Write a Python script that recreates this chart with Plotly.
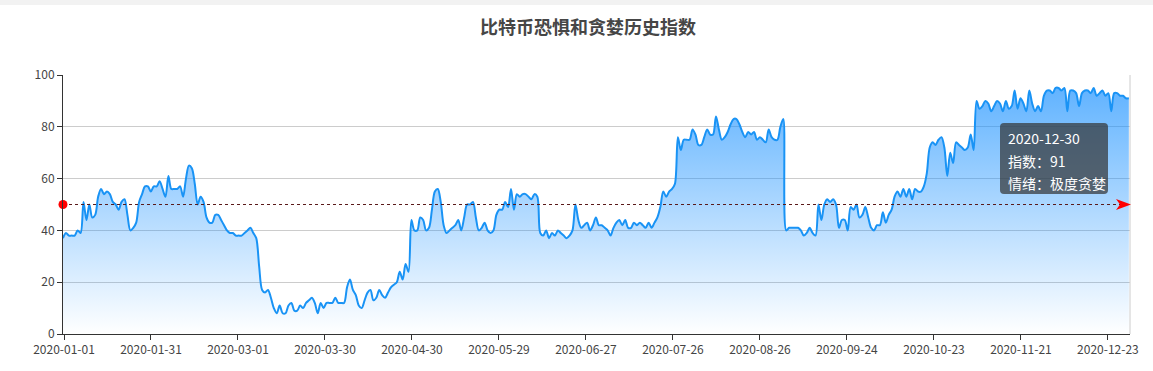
import plotly.graph_objects as go

# ---- data ----
fear_greed = [
    37, 39, 38, 38, 38, 40, 39, 51, 44, 50, 45, 46, 53, 56, 54, 55, 54, 51, 50, 48,
    51, 52, 46, 40, 41, 43, 51, 54, 57, 57, 55, 57, 57, 59, 56, 53, 61, 56, 56, 56,
    57, 53, 60, 65, 64, 58, 50, 53, 51, 45, 43, 43, 46, 46, 44, 42, 40, 39, 39, 38,
    38, 38, 39, 40, 41, 39, 37, 26, 17, 16, 17, 14, 10, 8, 11, 8, 8, 11, 12, 9,
    9, 11, 10, 12, 13, 14, 12, 8, 12, 10, 12, 12, 12, 14, 12, 12, 12, 18, 21, 17,
    15, 11, 10, 13, 16, 17, 13, 14, 17, 15, 14, 16, 18, 19, 20, 24, 21, 27, 24, 44,
    40, 40, 45, 44, 40, 41, 48, 55, 56, 51, 42, 39, 40, 41, 42, 44, 40, 45, 50, 50,
    51, 45, 40, 41, 43, 40, 39, 40, 46, 48, 48, 51, 49, 56, 48, 54, 53, 54, 54, 53,
    52, 54, 53, 39, 38, 40, 37, 39, 38, 40, 39, 38, 37, 38, 40, 50, 44, 41, 42, 43,
    40, 42, 45, 42, 42, 41, 40, 38, 41, 43, 44, 42, 44, 41, 41, 43, 42, 43, 42, 41,
    43, 41, 43, 45, 49, 55, 53, 55, 56, 58, 76, 71, 75, 75, 75, 79, 77, 73, 73, 76,
    79, 77, 77, 84, 79, 75, 76, 78, 81, 83, 83, 81, 78, 76, 78, 77, 78, 75, 76, 75,
    74, 79, 76, 75, 75, 80, 83, 40, 41, 41, 41, 41, 40, 38, 39, 41, 39, 38, 50, 44,
    50, 52, 51, 52, 50, 41, 44, 44, 40, 49, 48, 50, 45, 46, 49, 45, 41, 40, 42, 42,
    47, 43, 46, 48, 53, 55, 53, 56, 53, 56, 52, 56, 55, 55, 57, 62, 72, 74, 73, 75,
    76, 72, 61, 70, 66, 74, 73, 72, 71, 72, 77, 71, 90, 87, 88, 90, 89, 86, 88, 90,
    89, 86, 90, 87, 88, 94, 87, 91, 89, 86, 94, 89, 86, 88, 86, 92, 94, 94, 93, 95,
    95, 94, 95, 86, 94, 94, 93, 88, 93, 94, 94, 93, 95, 92, 93, 94, 92, 93, 86, 93,
    93, 92, 92, 91, 91,
]
tick_labels = ['2020-01-01', '2020-01-31', '2020-03-01', '2020-03-30', '2020-04-30',
               '2020-05-29', '2020-06-27', '2020-07-26', '2020-08-26', '2020-09-24',
               '2020-10-23', '2020-11-21', '2020-12-23']
y_ticks = [0, 20, 40, 60, 80, 100]
threshold = 50
tooltip_date = '2020-12-30'
tooltip_value = 91
tooltip_mood = '极度贪婪'
title_text = '比特币恐惧和贪婪历史指数'

# ---- layout geometry ----
W, H = 1153, 371
ML, MR, MT, MB = 63, 23, 75, 37
PW, PH = W - ML - MR, H - MT - MB
n = len(fear_greed)
x_idx = list(range(n))
x_max = n - 1 + 0.4
tick_pos = [0.34 + 29.71 * k for k in range(len(tick_labels))]

FONT = 'Noto Sans CJK SC, Microsoft YaHei, sans-serif'


def px_x(p):
    return (p - ML) / PW


def px_y(p):
    return (H - MB - p) / PH


fig = go.Figure()

fig.add_trace(go.Scatter(
    x=x_idx, y=fear_greed, mode='lines',
    line=dict(color='#1993f5', width=2, shape='spline', smoothing=0.9),
    fill='tozeroy',
    fillgradient=dict(type='vertical', start=0, stop=100,
                      colorscale=[[0, 'rgba(24,144,255,0.0)'],
                                  [1, 'rgba(24,144,255,0.72)']]),
    hoverinfo='skip', showlegend=False,
))

# mark line at threshold
fig.add_trace(go.Scatter(
    x=[0, x_max], y=[threshold, threshold], mode='lines',
    line=dict(color='#5a1a1a', width=1, dash='dot'),
    hoverinfo='skip', showlegend=False,
))
fig.add_trace(go.Scatter(
    x=[0], y=[threshold], mode='markers',
    marker=dict(symbol='circle', size=9, color='#ff0000'),
    cliponaxis=False, hoverinfo='skip', showlegend=False,
))

shapes = []
# top grey band of the page
shapes.append(dict(type='rect', xref='paper', yref='paper',
                   x0=px_x(0), x1=px_x(W), y0=px_y(0), y1=px_y(5),
                   fillcolor='#f2f2f2', line=dict(width=0), layer='below'))
# right border line
shapes.append(dict(type='line', xref='paper', yref='paper',
                   x0=1, x1=1, y0=0, y1=1, line=dict(color='#cccccc', width=1)))

# mark-line arrow head (ECharts style: concave back)
ax_tip, ax_back, ax_notch, ay_half = 1131, 1116, 1120, 5.5
yc = 204.5
arrow = (f'M {px_x(ax_tip)},{px_y(yc)} L {px_x(ax_back)},{px_y(yc - ay_half)} '
         f'L {px_x(ax_notch)},{px_y(yc)} L {px_x(ax_back)},{px_y(yc + ay_half)} Z')
shapes.append(dict(type='path', xref='paper', yref='paper', path=arrow,
                   fillcolor='#ff0000', line=dict(width=0)))

# tooltip box (rounded)
bx0, bx1, by0, by1, r = 1000, 1108, 123, 194, 4
rx, ry = r / PW, r / PH
X0, X1, Y0, Y1 = px_x(bx0), px_x(bx1), px_y(by1), px_y(by0)
path = (f'M {X0+rx},{Y0} L {X1-rx},{Y0} Q {X1},{Y0} {X1},{Y0+ry} '
        f'L {X1},{Y1-ry} Q {X1},{Y1} {X1-rx},{Y1} L {X0+rx},{Y1} '
        f'Q {X0},{Y1} {X0},{Y1-ry} L {X0},{Y0+ry} Q {X0},{Y0} {X0+rx},{Y0} Z')
shapes.append(dict(type='path', xref='paper', yref='paper', path=path,
                   fillcolor='rgba(50,50,50,0.7)', line=dict(width=0)))

annotations = []
for text, py in [(tooltip_date, 138), (f'指数：{tooltip_value}', 161),
                 (f'情绪：{tooltip_mood}', 183)]:
    annotations.append(dict(xref='paper', yref='paper', x=px_x(1006), y=px_y(py),
                            xanchor='left', yanchor='middle', text=text, showarrow=False,
                            font=dict(family=FONT, size=14, color='#ffffff')))

fig.update_layout(
    width=W, height=H,
    margin=dict(l=ML, r=MR, t=MT, b=MB),
    paper_bgcolor='white', plot_bgcolor='white',
    title=dict(text=f'<b>{title_text}</b>', xref='container', x=588 / W, xanchor='center',
               yref='container', y=1 - 28 / H, yanchor='middle',
               font=dict(family=FONT, size=18, color='#464646')),
    xaxis=dict(range=[0, x_max], tickmode='array', tickvals=tick_pos, ticktext=tick_labels,
               showgrid=False, zeroline=False, showline=True, linecolor='#333333',
               linewidth=1, ticks='outside', ticklen=5, tickcolor='#333333',
               tickfont=dict(family=FONT, size=12, color='#444444')),
    yaxis=dict(range=[0, 100], tickmode='array', tickvals=y_ticks,
               showgrid=True, gridcolor='#cccccc', gridwidth=1, zeroline=False,
               showline=True, linecolor='#333333', linewidth=1, ticks='outside',
               ticklen=5, tickcolor='#333333',
               tickfont=dict(family=FONT, size=12, color='#444444')),
    shapes=shapes, annotations=annotations,
    hovermode=False,
)

fig.write_html('out.html')
